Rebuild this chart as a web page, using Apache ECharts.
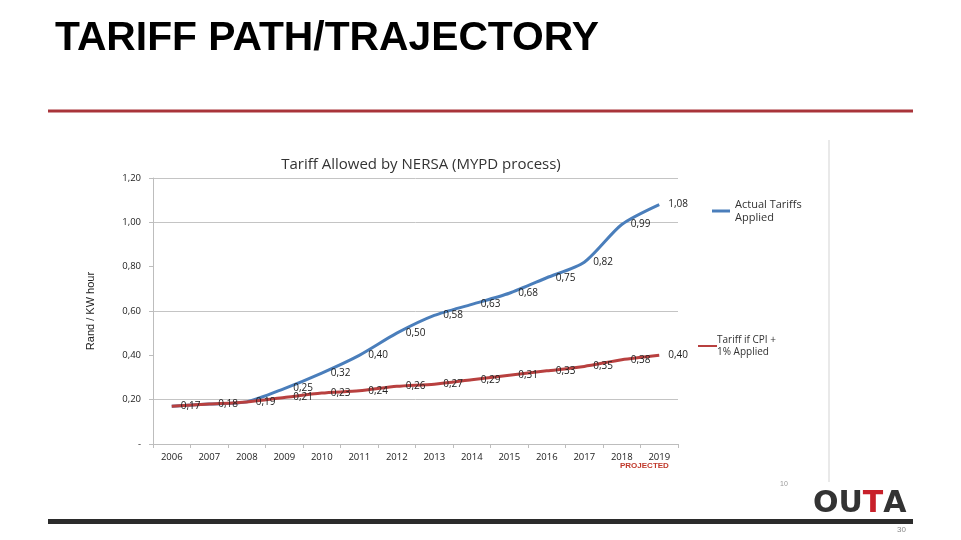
<!DOCTYPE html>
<html>
<head>
<meta charset="utf-8">
<script src="https://cdn.jsdelivr.net/npm/echarts@6/dist/echarts.min.js"></script>
<style>html,body{margin:0;padding:0;background:#fff}#c{width:961px;height:540px}</style>
</head>
<body>
<div id="c"></div>
<script>
const years = ['2006','2007','2008','2009','2010','2011','2012','2013','2014','2015','2016','2017','2018','2019'];
const actualTariffs = [0.17, 0.18, 0.19, 0.25, 0.32, 0.40, 0.50, 0.58, 0.63, 0.68, 0.75, 0.82, 0.99, 1.08];
const cpiTariffs = [0.17, 0.18, 0.19, 0.21, 0.23, 0.24, 0.26, 0.27, 0.29, 0.31, 0.33, 0.35, 0.38, 0.40];
const actualLabelFrom = 3; // labels for actual series shown from 2009
const seriesNames = ['Actual Tariffs Applied', 'Tariff if CPI + 1% Applied'];

const fmt = v => v.toFixed(2).replace('.', ',');
const chart = echarts.init(document.getElementById('c'), null, {renderer: 'canvas'});
const font = '"Open Sans", "Liberation Sans", sans-serif';

chart.setOption({
  animation: false,
  backgroundColor: '#ffffff',
  title: {
    text: 'Tariff Allowed by NERSA (MYPD process)',
    left: 416, top: 152, textAlign: 'center',
    textStyle: {fontFamily: font, fontSize: 15, fontWeight: 'normal', color: '#333'}
  },
  grid: {left: 153, right: 283, top: 178, bottom: 96, containLabel: false},
  legend: [
    {
      data: [seriesNames[0]], left: 707, top: 193, orient: 'vertical',
      icon: 'rect', itemWidth: 18, itemHeight: 3, itemGap: 5,
      formatter: () => 'Actual Tariffs\nApplied',
      textStyle: {fontFamily: font, fontSize: 11, color: '#333', lineHeight: 13}
    },
    {
      data: [seriesNames[1]], left: 693, top: 329, orient: 'vertical',
      icon: 'rect', itemWidth: 19, itemHeight: 2, itemGap: 2,
      formatter: () => 'Tariff if CPI +\n1% Applied',
      textStyle: {fontFamily: font, fontSize: 10, color: '#333', lineHeight: 12, padding: [0,0,0,-5]}
    }
  ],
  xAxis: {
    type: 'category', data: years, boundaryGap: true,
    axisLine: {lineStyle: {color: '#bdbdbd'}},
    axisTick: {show: true, length: 4, lineStyle: {color: '#bdbdbd'}},
    axisLabel: {fontFamily: font, fontSize: 9.5, color: '#222', margin: 8}
  },
  yAxis: {
    type: 'value', min: 0, max: 1.2, interval: 0.2,
    name: 'Rand / KW hour', nameLocation: 'middle', nameGap: 57, nameRotate: 90,
    nameTextStyle: {fontFamily: '"Liberation Sans Narrow", "Liberation Sans", sans-serif', fontSize: 11, color: '#222'},
    axisLine: {show: true, lineStyle: {color: '#bdbdbd'}},
    axisTick: {show: true, length: 4, lineStyle: {color: '#bdbdbd'}},
    axisLabel: {fontFamily: font, fontSize: 9.5, color: '#222', margin: 12, formatter: v => v === 0 ? '-' : fmt(v)},
    splitLine: {show: true, lineStyle: {color: ['#c4c4c4', '#c4c4c4', 'rgba(0,0,0,0)', '#c4c4c4', 'rgba(0,0,0,0)', '#c4c4c4', '#c4c4c4'], width: 1}}
  },
  series: [
    {
      name: seriesNames[0], type: 'line', data: actualTariffs, smooth: 0.25,
      showSymbol: true, symbol: 'circle', symbolSize: 0, z: 2,
      lineStyle: {color: '#4a7ebb', width: 3}, itemStyle: {color: '#4a7ebb'},
      label: {
        show: true, position: 'right', distance: 9,
        fontFamily: font, fontSize: 10, color: '#222',
        formatter: p => p.dataIndex >= actualLabelFrom ? fmt(p.value) : ''
      }
    },
    {
      name: seriesNames[1], type: 'line', data: cpiTariffs, smooth: 0.25,
      showSymbol: true, symbol: 'circle', symbolSize: 0, z: 3,
      lineStyle: {color: '#b8403f', width: 3}, itemStyle: {color: '#b8403f'},
      label: {
        show: true, position: 'right', distance: 9,
        fontFamily: font, fontSize: 10, color: '#222',
        formatter: p => fmt(p.value)
      }
    }
  ],
  graphic: [
    {type: 'text', left: 55, top: 18, style: {text: 'TARIFF PATH/TRAJECTORY', fontFamily: '"Liberation Sans", Arial, sans-serif', fontSize: 40.8, fontWeight: 'bold', fill: '#000'}},
    {type: 'rect', shape: {x: 48, y: 109.5, width: 865, height: 3}, style: {fill: '#a9343a'}},
    {type: 'rect', shape: {x: 48, y: 519, width: 865, height: 5}, style: {fill: '#2b2b2b'}},
    {type: 'line', shape: {x1: 829, y1: 140, x2: 829, y2: 482}, style: {stroke: '#e2e2e2', lineWidth: 1.5}},
    {type: 'text', left: 620, top: 462, style: {text: 'PROJECTED', fontFamily: '"Liberation Sans", sans-serif', fontSize: 8, fontWeight: 'bold', fill: '#c0392b'}},
    {type: 'text', left: 780, top: 481, style: {text: '10', fontFamily: '"Liberation Sans", sans-serif', fontSize: 7, fill: '#999'}},
    {type: 'text', left: 897, top: 526, style: {text: '30', fontFamily: '"Liberation Sans", sans-serif', fontSize: 8, fill: '#888'}},
    {type: 'text', left: 813, top: 489, style: {
      text: '{a|OU}{b|T}{a|A}',
      rich: {
        a: {fontFamily: '"DejaVu Sans", sans-serif', fontSize: 30, fontWeight: 'bold', fill: '#333'},
        b: {fontFamily: '"DejaVu Sans", sans-serif', fontSize: 30, fontWeight: 'bold', fill: '#c8202a'}
      }
    }}
  ]
});
</script>
</body>
</html>
